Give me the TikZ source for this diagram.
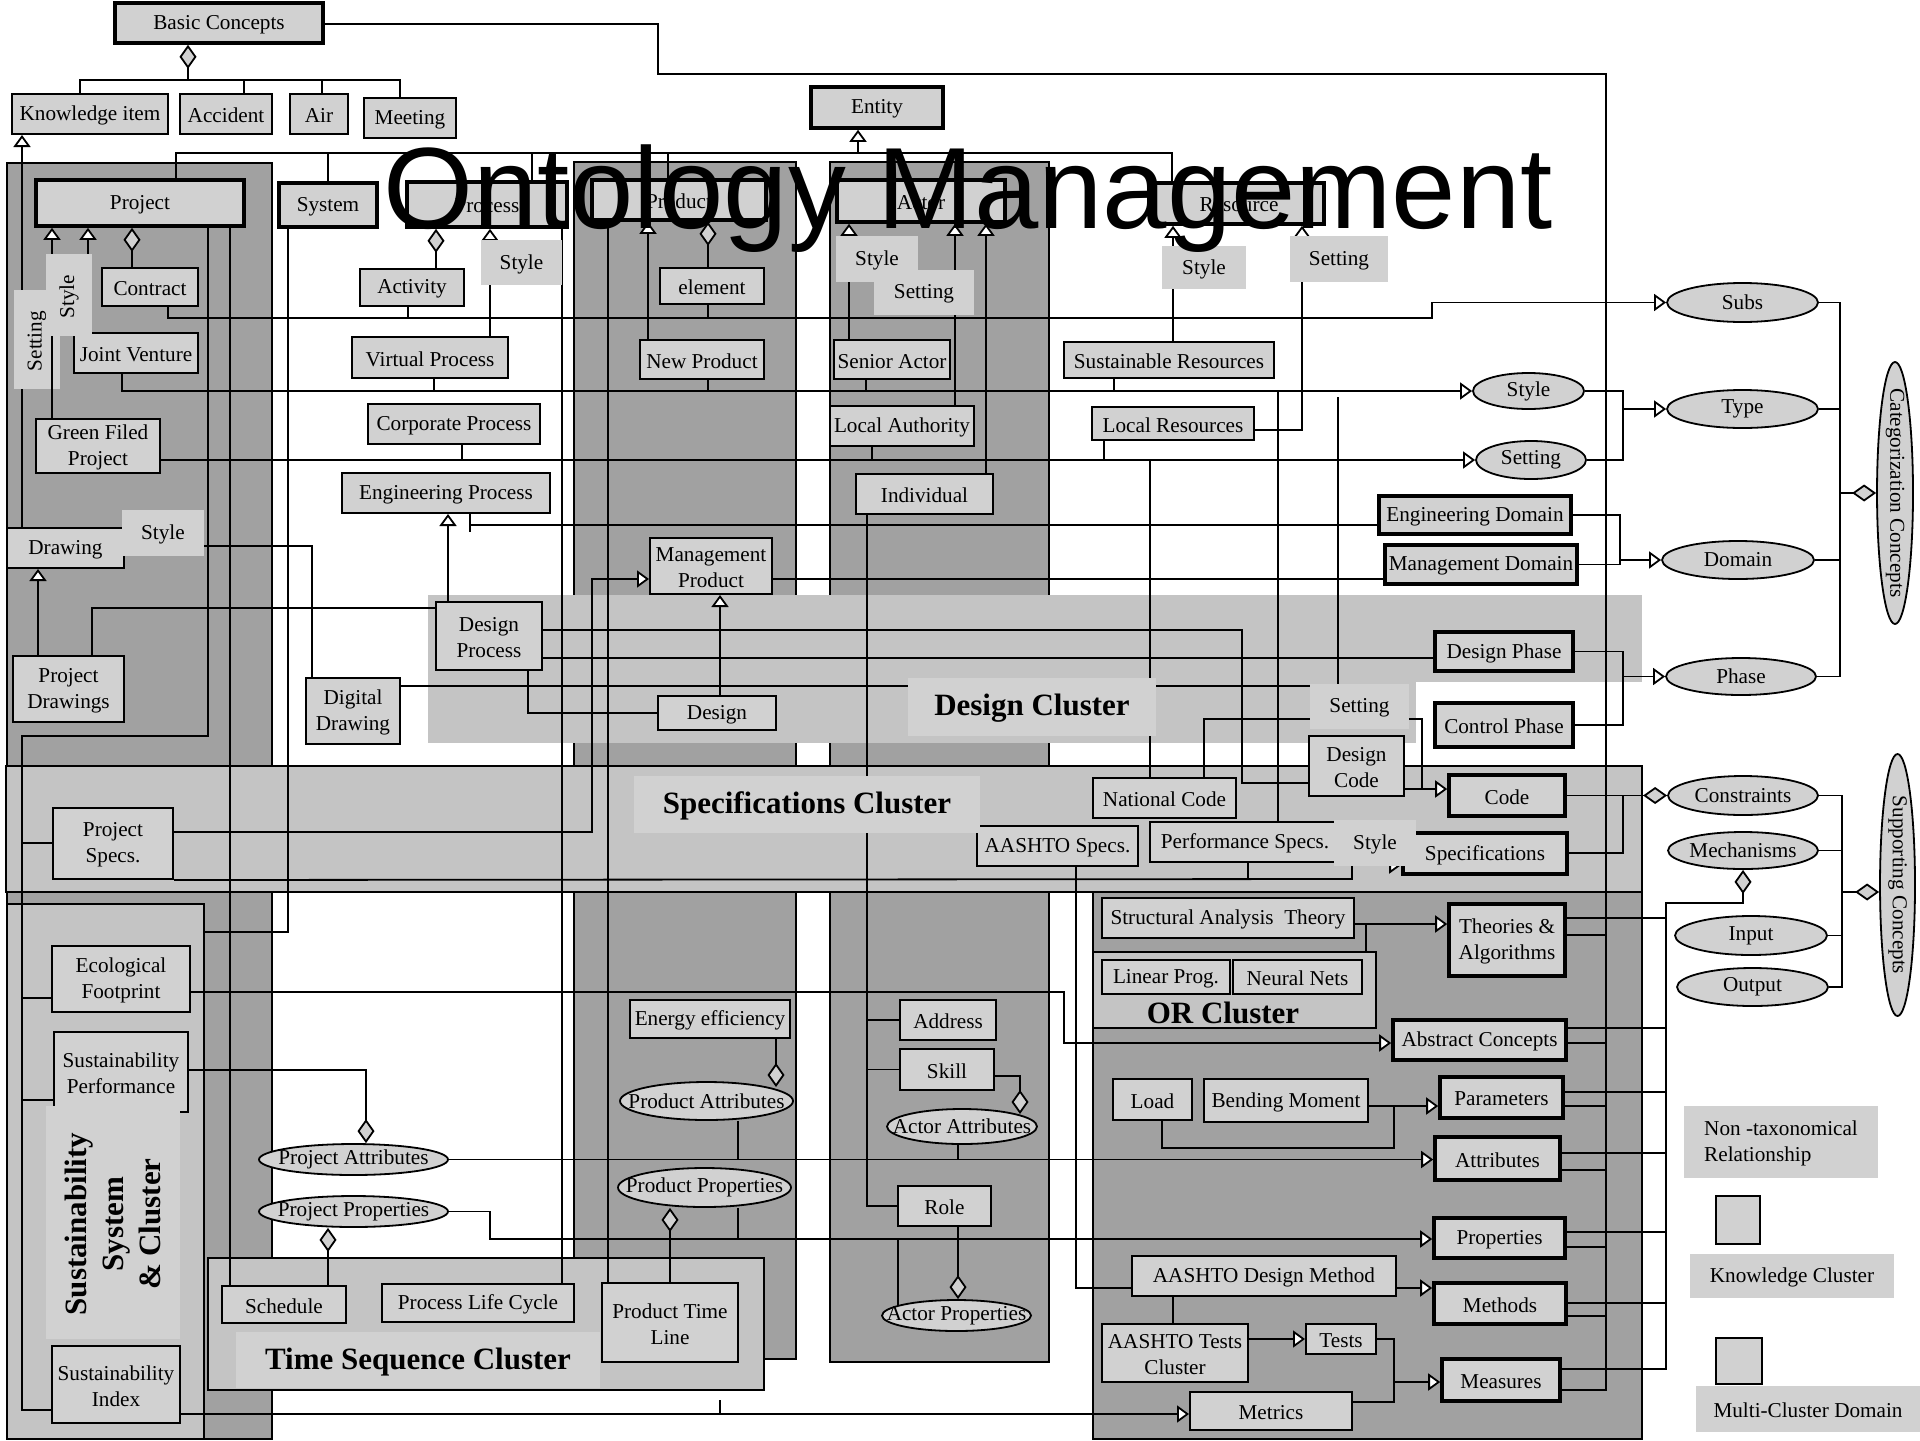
\documentclass[tikz,border=0pt]{standalone}
\usepackage{fontspec}
\setmainfont{Liberation Serif}
\newfontfamily\titlefont{Liberation Sans}
\usetikzlibrary{arrows.meta,fit,shapes.geometric}
\pgfdeclarelayer{bg}
\pgfdeclarelayer{wires}
\pgfsetlayers{bg,wires,main}
\definecolor{boxgray}{gray}{0.82}
\definecolor{clgray}{gray}{0.63}
\definecolor{bandgray}{gray}{0.77}
\newcommand\nfont{\fontsize{10.6}{13}\selectfont}
\newcommand\cfont{\fontsize{15.5}{17}\selectfont\bfseries}
% helpers: name, x1, y1, x2, y2, text (pixel-style coordinates, y downwards)
\newcommand\bx[7][]{\node[box,#1,fit={(#3,#4)(#5,#6)},label={[boxtext,yshift=-0.8pt]center:{#7}}] (#2) {};}
\newcommand\lb[7][]{\node[lbl,fit={(#3,#4)(#5,#6)},label={[boxtext,yshift=-0.8pt,#1]center:{#7}}] (#2) {};}
\newcommand\el[7][]{\node[ell,minimum width={(#5-#3)*0.5pt},minimum height={(#6-#4)*0.5pt},
  label={[boxtext,#1]center:{#7}}] (#2) at ({(#3+#5)/2},{(#4+#6)/2}) {};}
\tikzset{
  ln/.style={draw=black, line width=0.9pt},
  box/.style={draw=black, line width=1pt, fill=boxgray, inner sep=0pt},
  thk/.style={line width=1.8pt},
  ell/.style={ellipse, draw=black, line width=0.9pt, fill=boxgray, inner sep=0pt},
  lbl/.style={fill=boxgray, draw=none, inner sep=0pt},
  boxtext/.style={align=center, font=\nfont, inner sep=0pt},
  cl/.style={draw=black, line width=1pt, fill=clgray, inner sep=0pt},
  band/.style={draw=black, line width=1pt, fill=bandgray, inner sep=0pt},
  inh/.tip={Triangle[length=6pt,width=8.5pt,fill=white]},
  agg/.tip={Diamond[length=12pt,width=8.5pt,fill=boxgray]}
}
\begin{document}
\begin{tikzpicture}[x=0.5pt,y=-0.5pt]
\useasboundingbox (0,0) rectangle (1920,1440);

% ---------------- cluster backgrounds ----------------
\begin{pgfonlayer}{bg}
\node[cl, fit={(7,163)(272,1439)}] (clproj) {};
\node[cl, fit={(574,162)(796,1359)}] (clprod) {};
\node[cl, fit={(830,162)(1049,1362)}] (clactor) {};
\node[cl, fit={(1093,892)(1642,1439)}] (clright) {};
\fill[bandgray] (428,595) rectangle (1416,743);
\fill[bandgray] (1260,595) rectangle (1642,682);
\node[band, fit={(6,766)(1642,892)}] (clspecs) {};
\node[band, fit={(7,904)(204,1439)}] (clsust) {};
\node[band, fit={(208,1258)(764,1390)}] (cltime) {};
\node[band, fit={(1093,952)(1376,1028)}] (orcl) {};
\end{pgfonlayer}

% ---------------- boxes ----------------
\bx[thk]{bc}{115}{3}{323}{43}{Basic Concepts}
\bx{know}{12}{94}{168}{134}{Knowledge item}
\bx{acc}{180}{94}{272}{134}{Accident}
\bx{air}{290}{94}{348}{134}{Air}
\bx{meet}{364}{98}{456}{138}{Meeting}
\bx[thk]{entity}{811}{87}{943}{128}{Entity}
\bx[thk]{proj}{36}{180}{244}{226}{Project}
\bx[thk]{sys}{279}{183}{377}{227}{System}
\bx[thk]{proc}{407}{182}{567}{227}{Process}
\bx[thk]{prod}{592}{180}{766}{220}{Product}
\bx[thk]{actor}{837}{180}{1005}{222}{Actor}
\bx[thk]{res}{1154}{183}{1324}{224}{Resource}
\bx{contract}{102}{268}{198}{306}{Contract}
\bx{jv}{74}{333}{198}{373}{Joint Venture}
\bx{gfp}{36}{419}{160}{473}{Green Filed\\Project}
\bx{activity}{360}{269}{464}{306}{Activity}
\bx{vproc}{352}{337}{508}{378}{Virtual Process}
\bx{cproc}{368}{404}{540}{444}{Corporate Process}
\bx{eproc}{342}{473}{550}{513}{Engineering Process}
\bx{element}{660}{268}{764}{304}{element}
\bx{newprod}{640}{340}{764}{379}{New Product}
\bx{senior}{834}{340}{950}{379}{Senior Actor}
\bx{locauth}{830}{406}{974}{446}{Local Authority}
\bx{indiv}{856}{474}{993}{514}{Individual}
\bx{susres}{1064}{342}{1274}{378}{Sustainable Resources}
\bx{locres}{1092}{407}{1254}{440}{Local Resources}
\bx[thk]{engdom}{1379}{496}{1571}{534}{Engineering Domain}
\bx[thk]{mgmtdom}{1385}{545}{1577}{584}{Management Domain}
\bx{drawing}{7}{528}{124}{568}{Drawing}
\bx{pdraw}{13}{656}{124}{722}{Project\\Drawings}
\bx{mgmtprod}{650}{538}{772}{594}{Management\\Product}
\bx{dproc}{436}{602}{542}{670}{Design\\Process}
\bx{design}{658}{696}{776}{730}{Design}
\bx{ddraw}{306}{678}{400}{744}{Digital\\Drawing}
\bx[thk]{dphase}{1435}{632}{1573}{671}{Design Phase}
\bx[thk]{cphase}{1435}{703}{1573}{747}{Control Phase}
\bx{dcode}{1309}{736}{1404}{796}{Design\\Code}
\bx{natcode}{1093}{778}{1236}{818}{National Code}
\bx[thk]{code}{1449}{775}{1565}{816}{Code}
\bx{aashtospecs}{977}{826}{1138}{866}{AASHTO Specs.}
\bx{perfspecs}{1150}{822}{1340}{862}{Performance Specs.}
\bx[thk]{specs}{1403}{833}{1567}{874}{Specifications}
\bx{pspecs}{53}{808}{173}{879}{Project\\Specs.}
\bx{sat}{1102}{898}{1354}{938}{Structural Analysis\ \ Theory}
\bx[thk]{theories}{1449}{904}{1565}{976}{Theories \&\\Algorithms}
\bx{linprog}{1102}{960}{1230}{994}{Linear Prog.}
\bx{neural}{1233}{960}{1362}{994}{Neural Nets}
\bx[thk]{abstract}{1393}{1020}{1566}{1060}{Abstract Concepts}
\bx{load}{1113}{1079}{1192}{1120}{Load}
\bx{bending}{1204}{1079}{1368}{1122}{Bending Moment}
\bx[thk]{params}{1440}{1077}{1563}{1118}{Parameters}
\bx[thk]{attrs}{1435}{1137}{1560}{1180}{Attributes}
\bx[thk]{props}{1434}{1218}{1565}{1258}{Properties}
\bx[thk]{methods}{1434}{1283}{1566}{1324}{Methods}
\bx[thk]{measures}{1442}{1359}{1560}{1401}{Measures}
\bx{adm}{1132}{1256}{1396}{1296}{AASHTO Design Method}
\bx{atc}{1102}{1324}{1248}{1382}{AASHTO Tests\\Cluster}
\bx{tests}{1306}{1324}{1376}{1354}{Tests}
\bx{metrics}{1190}{1392}{1352}{1430}{Metrics}
\bx{ecofp}{52}{946}{190}{1012}{Ecological\\Footprint}
\bx{susperf}{54}{1032}{188}{1112}{Sustainability\\Performance}
\bx{susidx}{52}{1346}{180}{1423}{Sustainability\\Index}
\bx{schedule}{222}{1286}{346}{1323}{Schedule}
\bx{plc}{382}{1284}{574}{1322}{Process Life Cycle}
\bx{ptl}{602}{1283}{738}{1362}{Product Time\\Line}
\bx{energy}{630}{1000}{790}{1038}{Energy efficiency}
\bx{address}{900}{1000}{996}{1040}{Address}
\bx{skill}{900}{1049}{994}{1090}{Skill}
\bx{role}{898}{1186}{991}{1226}{Role}

% ---------------- ellipses ----------------
\el{subs}{1667}{283}{1818}{322}{Subs}
\el{type}{1667}{390}{1818}{428}{Type}
\el{styleE}{1473}{373}{1584}{409}{Style}
\el{settingE}{1476}{441}{1586}{479}{Setting}
\el{domain}{1662}{541}{1814}{579}{Domain}
\el{phase}{1666}{658}{1816}{695}{Phase}
\el{constraints}{1668}{776}{1818}{815}{Constraints}
\el{mechanisms}{1668}{832}{1818}{869}{Mechanisms}
\el{input}{1675}{916}{1827}{955}{Input}
\el{output}{1677}{968}{1828}{1006}{Output}
\el[rotate=-90]{catconc}{1877}{362}{1913}{624}{Categorization Concepts}
\el[rotate=-90]{supconc}{1880}{754}{1915}{1016}{Supporting Concepts}
\el{projattr}{259}{1144}{448}{1175}{Project Attributes}
\el{projprops}{259}{1196}{448}{1227}{Project Properties}
\el{prodattr}{620}{1082}{793}{1120}{Product Attributes}
\el{prodprops}{618}{1168}{791}{1207}{Product Properties}
\el{actorattr}{887}{1109}{1037}{1144}{Actor Attributes}
\el{actorprops}{882}{1300}{1031}{1331}{Actor Properties}

% ---------------- connectors ----------------
\begin{pgfonlayer}{wires}
% basic concepts
\draw[ln] (know.north -| 80,0) -- (80,80) -- (400,80) -- (meet.north -| 400,0);
\draw[ln] (acc.north -| 244,0) -- (244,80);
\draw[ln] (air.north -| 322,0) -- (322,80);
\draw[ln,-{agg}] (188,80) -- (bc.south -| 188,0);
\draw[ln] (bc.east |- 0,24) -- (658,24) -- (658,74) -- (1606,74) -- (1606,1390) -- (measures.east |- 0,1390);
\draw[ln,-{inh}] (drawing.north -| 22,0) -- (know.south -| 22,0);
% header bus
\draw[ln] (proj.north -| 176,0) -- (176,153) -- (1172,153) -- (res.north -| 1172,0);
\draw[ln] (sys.north) -- (sys.north |- 0,153);
\draw[ln] (proc.north -| 532,0) -- (532,153);
\draw[ln] (prod.north -| 668,0) -- (668,153);
\draw[ln,-{inh}] (858,153) -- (entity.south -| 858,0);
% project internals
\draw[ln,-{agg}] (contract.north -| 132,0) -- (proj.south -| 132,0);
\draw[ln,-{inh}] (jv.north -| 88,0) -- (proj.south -| 88,0);
% subs bus
\draw[ln,-{inh}] (contract.south -| 168,0) -- (168,318) -- (1432,318) -- (1432,302.5) -- (subs.west);
\draw[ln] (activity.south -| 408,0) -- (408,318);
\draw[ln] (element.south -| 708,0) -- (708,318);
% style bus
\draw[ln,-{inh}] (jv.south -| 122,0) -- (122,391) -- (styleE.west);
\draw[ln] (vproc.south -| 434,0) -- (434,391);
\draw[ln] (newprod.south -| 708,0) -- (708,391);
\draw[ln] (senior.south -| 866,0) -- (866,391);
\draw[ln] (susres.south -| 1114,0) -- (1114,391);
% setting bus
\draw[ln,-{inh}] (gfp.east |- 0,460) -- (settingE.west);
\draw[ln] (cproc.south -| 462,0) -- (462,460);
\draw[ln] (locauth.south -| 872,0) -- (872,460);
\draw[ln] (locres.south -| 1104,0) -- (1104,460);
% type, categorization
\draw[ln] (styleE.east) -- (1623,391) -- (1623,460) -- (settingE.east);
\draw[ln,-{inh}] (1623,409) -- (type.west);
\draw[ln] (subs.east) -- (1840,302.5) -- (1840,676.5) -- (phase.east);
\draw[ln] (type.east) -- (1840,409);
\draw[ln] (domain.east) -- (1840,560);
\draw[ln,-{agg}] (1840,493) -- (catconc.west);
\draw[ln] (engdom.east) -- (1620,515) -- (1620,564.5) -- (mgmtdom.east);
\draw[ln,-{inh}] (1620,560) -- (domain.west);
\draw[ln] (dphase.east) -- (1623,651.5) -- (1623,725) -- (cphase.east);
\draw[ln,-{inh}] (1623,676.5) -- (phase.west);
% resource
\draw[ln,-{inh}] (susres.north -| 1173,0) -- (res.south -| 1173,0);
\draw[ln,-{inh}] (locres.east |- 0,430) -- (1302,430) -- (res.south -| 1302,0);
% product
\draw[ln,-{inh}] (newprod.north -| 648,0) -- (prod.south -| 648,0);
\draw[ln,-{agg}] (element.north -| 708,0) -- (prod.south -| 708,0);
\draw[ln] (prod.south -| 608,0) -- (ptl.north -| 608,0);
% actor
\draw[ln,-{inh}] (senior.north -| 849,0) -- (actor.south -| 849,0);
\draw[ln,-{inh}] (locauth.north -| 955,0) -- (actor.south -| 955,0);
\draw[ln,-{inh}] (indiv.north -| 986,0) -- (actor.south -| 986,0);
% process
\draw[ln,-{agg}] (activity.north -| 436,0) -- (proc.south -| 436,0);
\draw[ln,-{inh}] (vproc.north -| 490,0) -- (proc.south -| 490,0);
\draw[ln] (proc.south -| 562,0) -- (plc.north -| 562,0);
% system
\draw[ln] (sys.south -| 288,0) -- (288,932) -- (clsust.east |- 0,932);
% project verticals
\draw[ln] (proj.south -| 230,0) -- (schedule.north -| 230,0);
\draw[ln] (proj.south -| 208,0) -- (208,736) -- (22,736) -- (22,1410) -- (susidx.west |- 0,1410);
\draw[ln] (22,843) -- (pspecs.west |- 0,843);
\draw[ln] (22,998) -- (ecofp.west |- 0,998);
\draw[ln] (22,1100) -- (susperf.west |- 0,1100);
% drawings
\draw[ln,-{inh}] (pdraw.north -| 38,0) -- (drawing.south -| 38,0);
\draw[ln] (pdraw.north -| 92,0) -- (92,608) -- (dproc.west |- 0,608);
\draw[ln] (ddraw.north -| 312,0) -- (312,546) -- (drawing.east |- 0,546);
\draw[ln] (ddraw.east |- 0,686) -- (1338,686) -- (1338,397);
% engineering / design
\draw[ln] (eproc.south -| 470,0) -- (470,532);
\draw[ln] (470,525) -- (engdom.west |- 0,525);
\draw[ln,-{inh}] (dproc.north -| 448,0) -- (eproc.south -| 448,0);
\draw[ln] (dproc.east |- 0,630) -- (1242,630) -- (1242,783) -- (dcode.west |- 0,783);
\draw[ln] (dproc.east |- 0,658) -- (dphase.west |- 0,658);
\draw[ln] (dproc.south -| 528,0) -- (528,713) -- (design.west);
\draw[ln,-{inh}] (design.north -| 720,0) -- (mgmtprod.south -| 720,0);
\draw[ln,-{inh}] (pspecs.east |- 0,832) -- (592,832) -- (592,579) -- (mgmtprod.west |- 0,579);
\draw[ln] (mgmtprod.east |- 0,579) -- (mgmtdom.west |- 0,579);
% specifications
\draw[ln,-{inh}] (pspecs.south east) -- (1352,879) -- (1352,865) -- (specs.west |- 0,865);
\draw[ln] (perfspecs.south -| 1248,0) -- (1248,879);
\draw[ln] (1278,391) -- (perfspecs.north -| 1278,0);
\draw[ln] (1150,460) -- (natcode.north -| 1150,0);
\draw[ln] (natcode.north -| 1204,0) -- (1204,719) -- (1422,719) -- (1422,789);
\draw[ln,-{inh}] (dcode.east |- 0,789) -- (code.west |- 0,789);
\draw[ln] (aashtospecs.south -| 1076,0) -- (1076,1288) -- (adm.west |- 0,1288);
% supporting concepts
\draw[ln,-{agg}] (code.east) -- (constraints.west);
\draw[ln] (1623,795.5) -- (1623,853) -- (specs.east |- 0,853);
\draw[ln] (constraints.east) -- (1842,795.5) -- (1842,987) -- (output.east);
\draw[ln] (mechanisms.east) -- (1842,850.5);
\draw[ln] (input.east) -- (1842,935.5);
\draw[ln,-{agg}] (1842,892) -- (supconc.west |- 0,892);
\draw[ln,-{agg}] (measures.east |- 0,1369) -- (1666,1369) -- (1666,903) -- (1743,903) -- (mechanisms.south);
\foreach \nm/\ya/\yb in {theories/918/935, abstract/1028/1043, params/1092/1106, attrs/1153/1170, props/1232/1247, methods/1303/1316}{
  \draw[ln] (\nm.east |- 0,\ya) -- (1666,\ya);
  \draw[ln] (\nm.east |- 0,\yb) -- (1606,\yb);
}
% right cluster
\draw[ln,-{inh}] (sat.east |- 0,924) -- (theories.west |- 0,924);
\draw[ln] (orcl.north -| 1366,0) -- (1366,924);
\draw[ln,-{inh}] (ecofp.east |- 0,992) -- (1064,992) -- (1064,1043) -- (abstract.west |- 0,1043);
\draw[ln,-{inh}] (bending.east |- 0,1106) -- (params.west |- 0,1106);
\draw[ln] (load.south -| 1162,0) -- (1162,1148) -- (1394,1148) -- (1394,1106);
\draw[ln,-{inh}] (projattr.east) -- (attrs.west |- projattr.east);
\draw[ln] (prodattr.south -| 738,0) -- (738,1159.5);
\draw[ln] (actorattr.south -| 958,0) -- (958,1159.5);
\draw[ln,-{inh}] (projprops.east) -- (490,1211.5) -- (490,1239) -- (props.west |- 0,1239);
\draw[ln] (prodprops.south -| 738,0) -- (738,1239);
\draw[ln] (898,1239) -- (898,1305);
\draw[ln,-{agg}] (role.south -| 958,0) -- (actorprops.north -| 958,0);
\draw[ln] (indiv.south -| 867,0) -- (867,1206) -- (role.west);
\draw[ln] (867,1020) -- (address.west);
\draw[ln] (867,1069.5) -- (skill.west);
\draw[ln,-{agg}] (skill.east |- 0,1076) -- (1020,1076) -- (1020,1114);
\draw[ln,-{agg}] (energy.south -| 776,0) -- (776,1087);
\draw[ln,-{agg}] (ptl.north -| 670,0) -- (prodprops.south -| 670,0);
\draw[ln,-{agg}] (schedule.north -| 328,0) -- (projprops.south -| 328,0);
\draw[ln,-{agg}] (susperf.east |- 0,1070) -- (366,1070) -- (projattr.north -| 366,0);
\draw[ln,-{inh}] (susidx.east |- 0,1414) -- (metrics.west |- 0,1414);
\draw[ln] (720,1400) -- (720,1414);
\draw[ln,-{inh}] (adm.east |- 0,1288) -- (methods.west |- 0,1288);
\draw[ln] (adm.south -| 1173,0) -- (atc.north -| 1173,0);
\draw[ln,-{inh}] (atc.east |- 0,1339) -- (tests.west |- 0,1339);
\draw[ln] (tests.east |- 0,1339) -- (1394,1339) -- (1394,1402) -- (metrics.east |- 0,1402);
\draw[ln,-{inh}] (1394,1382) -- (measures.west |- 0,1382);
\end{pgfonlayer}

% ---------------- relation labels ----------------
\lb[rotate=90]{lsetv}{14}{290}{60}{389}{Setting}
\draw[ln,-{inh}] (gfp.north -| 52,0) -- (proj.south -| 52,0);
\lb[rotate=90]{lstylev}{46}{254}{92}{336}{Style}
\lb{lstyleproc}{481}{240}{562}{285}{Style}
\lb{lstyleact}{836}{236}{918}{282}{Style}
\lb{lsetact}{874}{270}{974}{315}{Setting}
\lb{lstyleres}{1162}{246}{1246}{289}{Style}
\lb{lsetres}{1290}{236}{1388}{282}{Setting}
\lb{lstyledraw}{122}{510}{204}{556}{Style}
\lb{lsetdc}{1310}{684}{1409}{729}{Setting}
\lb{lstyleps}{1334}{820}{1416}{866}{Style}

% ---------------- cluster titles ----------------
\lb[font=\cfont]{ldesign}{908}{678}{1156}{736}{Design Cluster}
\lb[font=\cfont]{lspecs}{634}{776}{980}{833}{Specifications Cluster}
\lb[font=\cfont]{ltime}{236}{1332}{600}{1388}{Time Sequence Cluster}
\lb[rotate=90,font={\fontsize{15.5}{18.5}\selectfont\bfseries}]{lsust}{46}{1106}{180}{1339}{Sustainability\\System\\\& Cluster}
\node[font=\cfont, inner sep=0pt] (ortitle) at (1223,1013) {OR Cluster};

% ---------------- legend ----------------
\lb[align=left]{lnontax}{1684}{1106}{1878}{1178}{Non -taxonomical\\Relationship}
\bx{legk}{1716}{1196}{1760}{1244}{}
\lb{lknow}{1690}{1254}{1894}{1298}{Knowledge Cluster}
\bx{legm}{1716}{1338}{1762}{1384}{}
\lb{lmulti}{1696}{1386}{1920}{1432}{Multi-Cluster Domain}

% ---------------- title ----------------
\node[font=\titlefont\fontsize{57.8}{60}\selectfont, anchor=base, inner sep=0pt] (title) at (968,228) {Ontology Management};
\end{tikzpicture}
\end{document}
